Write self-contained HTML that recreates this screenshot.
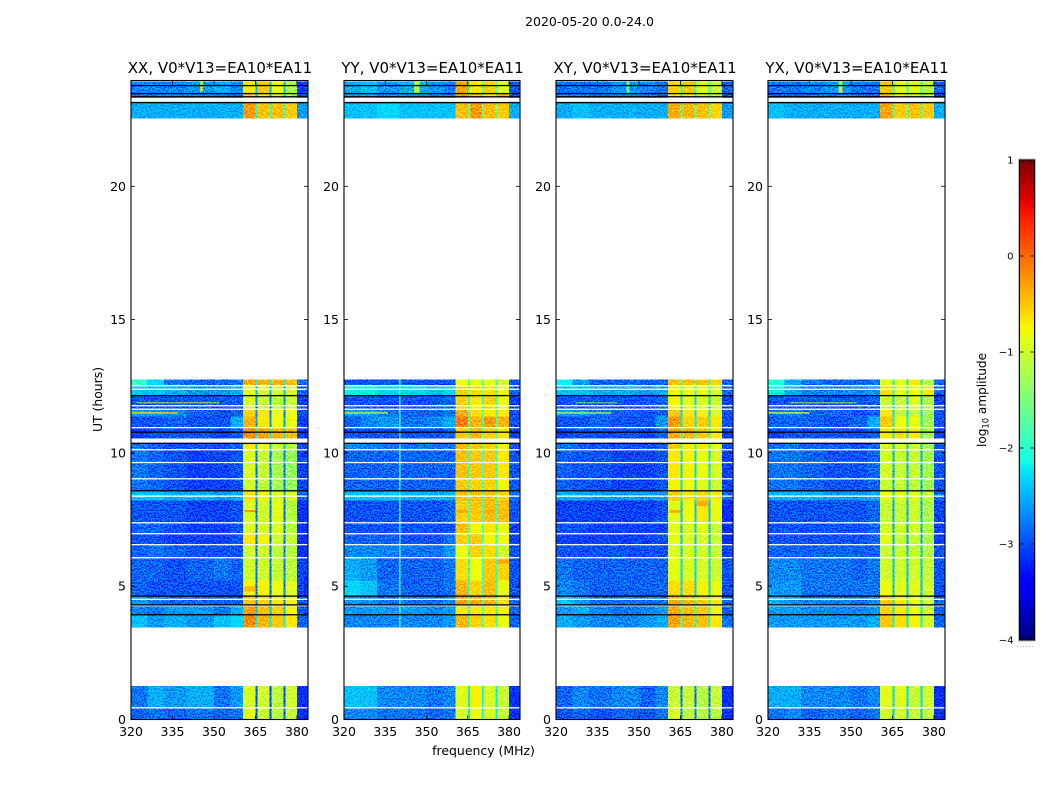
<!DOCTYPE html>
<html lang="en">
<head>
<meta charset="utf-8">
<title>2020-05-20 0.0-24.0</title>
<style>
html,body{margin:0;padding:0;background:#fff;}
svg{display:block;}
text{font-family:"DejaVu Sans","Liberation Sans",sans-serif;fill:#000;}
</style>
</head>
<body>
<svg id="chart" xmlns="http://www.w3.org/2000/svg" width="1050" height="800" viewBox="0 0 1050 800">
  <defs>
    <filter id="grain" x="0" y="0" width="100%" height="100%" color-interpolation-filters="sRGB">
      <feTurbulence type="fractalNoise" baseFrequency="0.7" numOctaves="1" seed="7" result="n"/>
      <feColorMatrix in="n" type="matrix" values="7 0 0 0 -3  7 0 0 0 -3  7 0 0 0 -3  0 0 0 0 1" result="g"/>
      <feBlend in="g" in2="SourceGraphic" mode="soft-light" result="b"/>
      <feComposite in="b" in2="SourceAlpha" operator="in"/>
    </filter>
    <linearGradient id="jet-gradient" x1="0" y1="1" x2="0" y2="0"></linearGradient>
  </defs>
</svg>
<script>
// ---------- chart data ----------
const figureTitle = "2020-05-20 0.0-24.0";
const panelTitles = ["XX, V0*V13=EA10*EA11","YY, V0*V13=EA10*EA11","XY, V0*V13=EA10*EA11","YX, V0*V13=EA10*EA11"];
const xTicks = [320,335,350,365,380];
const yTicks = [0,5,10,15,20];
const cbarTicks = [1,0,-1,-2,-3,-4];
// frequency bin edges (MHz)
const freqEdges = [320,326,332,340,350,356,360.5,365.1,365.8,370.1,370.8,375.1,375.8,380,384];
// time rows (UT hours)
const utTop =    [23.94,23.49,23.15,12.76,12.52,12.16,11.67,11.37,10.96,10.39,10.13,9.04,8.59,8.22,7.39,6.98,6.57,6.08,5.22,4.65,4.28,3.94,1.26,0.45];
const utBottom = [23.49,23.15,22.54,12.52,12.16,11.67,11.37,10.96,10.54,10.13,9.04,8.59,8.22,7.39,6.98,6.57,6.08,5.22,4.65,4.28,3.94,3.45,0.45,0];
// log10 amplitude per row and frequency bin
const ampXX = [
[-2.7,-2.7,-2.7,-2.6,-2.5,-2.7,-0.7,-2.4,-0.55,-2.4,-0.8,-2.4,-1.2,-3.1],
[-2.8,-2.8,-2.7,-2.7,-2.7,-2.8,-0.6,-2.4,-0.7,-2.4,-1.0,-2.4,-1.2,-3.0],
[-2.5,-2.5,-2.5,-2.5,-2.5,-2.5,-0.3,-2.0,-0.5,-2.0,-0.5,-2.0,-0.55,-2.6],
[-2.0,-2.3,-2.8,-2.9,-2.9,-2.8,-0.4,-2.2,-0.45,-2.2,-0.45,-2.2,-0.5,-2.8],
[-2.4,-2.4,-2.5,-2.6,-2.6,-2.5,-0.8,-2.4,-0.9,-2.4,-0.9,-2.4,-0.9,-2.9],
[-3.0,-3.0,-3.0,-3.0,-3.0,-2.9,-0.9,-2.7,-1.0,-2.7,-1.1,-2.7,-1.0,-3.1],
[-2.6,-2.6,-2.7,-2.9,-3.0,-2.9,-0.6,-2.7,-0.7,-2.7,-0.8,-2.7,-0.8,-3.0],
[-3.0,-3.0,-2.9,-3.0,-3.0,-2.5,-0.45,-2.6,-0.7,-2.6,-0.8,-2.6,-0.8,-3.1],
[-3.1,-3.0,-3.0,-3.0,-3.1,-2.9,-0.25,-2.2,-0.35,-2.2,-0.45,-2.2,-0.5,-3.1],
[-2.8,-2.9,-3.0,-3.0,-3.0,-2.9,-0.7,-2.4,-0.8,-2.4,-1.0,-2.4,-1.1,-3.0],
[-2.8,-2.9,-3.0,-3.1,-3.1,-3.0,-0.9,-2.8,-1.0,-2.8,-1.2,-2.8,-1.3,-3.1],
[-2.8,-2.9,-3.0,-3.1,-3.1,-3.0,-0.95,-2.8,-1.05,-2.8,-1.2,-2.8,-1.3,-3.1],
[-2.4,-2.4,-2.5,-2.5,-2.6,-2.5,-0.65,-2.5,-0.75,-2.5,-0.85,-2.5,-0.9,-2.9],
[-3.0,-3.0,-3.0,-3.1,-3.1,-3.0,-0.9,-2.8,-0.95,-2.8,-0.85,-2.8,-1.1,-3.2],
[-2.9,-2.9,-3.0,-3.1,-3.1,-3.0,-0.9,-2.8,-0.9,-2.8,-0.9,-2.8,-1.1,-3.2],
[-3.0,-3.0,-3.1,-3.1,-3.1,-3.0,-0.7,-2.8,-0.75,-2.8,-0.95,-2.8,-1.0,-3.2],
[-2.9,-2.8,-2.9,-3.0,-3.0,-3.0,-0.95,-2.8,-0.95,-2.8,-1.05,-2.8,-1.1,-3.2],
[-2.9,-2.9,-3.0,-2.9,-2.8,-2.9,-0.95,-2.8,-0.95,-2.8,-1.0,-2.8,-1.05,-3.1],
[-2.9,-3.0,-3.0,-3.0,-3.0,-3.0,-0.75,-2.8,-0.75,-2.8,-0.8,-2.8,-0.85,-3.1],
[-2.6,-2.8,-2.9,-2.9,-2.9,-2.9,-0.55,-2.6,-0.6,-2.6,-0.7,-2.6,-0.75,-3.0],
[-2.7,-2.8,-2.6,-2.6,-2.8,-2.5,-0.35,-2.4,-0.5,-2.4,-0.6,-2.4,-0.75,-3.0],
[-2.4,-2.6,-2.5,-2.6,-2.4,-2.3,-0.2,-2.2,-0.45,-2.2,-0.55,-2.2,-0.7,-2.9],
[-2.8,-2.5,-2.6,-2.5,-2.8,-2.6,-0.9,-3.0,-0.95,-3.0,-1.05,-3.0,-0.95,-3.2],
[-2.9,-2.8,-2.9,-2.8,-2.9,-2.8,-0.85,-3.0,-1.0,-3.0,-1.1,-3.0,-1.0,-3.2]
];
const ampYY = [
[-2.5,-2.4,-2.6,-2.5,-2.6,-2.7,-0.35,-1.8,-0.7,-1.8,-0.6,-1.8,-0.9,-3.0],
[-2.6,-2.5,-2.7,-2.6,-2.7,-2.8,-0.35,-1.8,-0.5,-1.8,-0.7,-1.8,-0.45,-3.0],
[-2.4,-2.4,-2.3,-2.4,-2.4,-2.4,-0.5,-1.6,-0.3,-1.6,-0.5,-1.6,-0.55,-2.5],
[-3.0,-3.0,-3.0,-3.0,-3.0,-3.0,-0.8,-1.9,-0.85,-1.9,-0.85,-1.9,-0.95,-3.0],
[-2.2,-2.2,-2.3,-2.3,-2.4,-2.3,-0.6,-1.7,-0.65,-1.7,-0.65,-1.7,-0.75,-2.9],
[-3.0,-3.0,-3.0,-3.0,-3.0,-2.9,-0.6,-1.9,-0.7,-1.9,-0.6,-1.9,-0.8,-3.1],
[-2.6,-2.6,-2.8,-2.9,-2.9,-2.8,-0.4,-1.9,-0.65,-1.9,-0.7,-1.9,-0.7,-3.0],
[-2.9,-2.7,-2.6,-2.8,-2.7,-2.5,-0.15,-1.8,-0.45,-1.8,-0.3,-1.8,-0.45,-3.0],
[-3.0,-3.0,-3.0,-3.0,-3.0,-2.9,-0.55,-1.8,-0.45,-1.8,-0.6,-1.8,-0.7,-3.1],
[-2.7,-2.7,-2.8,-2.8,-2.8,-2.8,-0.45,-1.8,-0.55,-1.8,-0.6,-1.8,-0.75,-3.0],
[-2.9,-2.9,-2.9,-2.9,-2.9,-2.9,-0.5,-2.0,-0.55,-2.0,-0.55,-2.0,-0.7,-3.0],
[-2.9,-2.9,-2.9,-2.9,-2.9,-2.9,-0.55,-2.0,-0.6,-2.0,-0.6,-2.0,-0.75,-3.0],
[-2.4,-2.4,-2.4,-2.5,-2.5,-2.5,-0.5,-1.8,-0.5,-1.8,-0.5,-1.8,-0.6,-2.8],
[-3.0,-3.0,-3.0,-3.0,-3.0,-2.9,-0.6,-2.0,-0.55,-2.0,-0.5,-2.0,-0.5,-3.0],
[-3.0,-3.0,-3.0,-3.0,-3.0,-3.0,-0.5,-2.0,-0.75,-2.0,-0.7,-2.0,-0.8,-3.1],
[-2.9,-2.9,-2.9,-3.0,-3.0,-2.8,-0.6,-2.0,-0.55,-2.0,-0.75,-2.0,-0.8,-3.1],
[-2.7,-2.7,-2.7,-2.8,-2.8,-2.6,-0.8,-1.9,-0.6,-1.9,-0.65,-1.9,-0.95,-3.0],
[-2.5,-2.6,-2.9,-2.9,-2.9,-2.8,-0.65,-2.0,-0.8,-2.0,-0.55,-2.0,-0.6,-3.0],
[-2.3,-2.4,-2.8,-2.9,-2.9,-2.8,-0.45,-2.0,-0.6,-2.0,-0.5,-2.0,-0.8,-3.0],
[-2.6,-2.7,-2.8,-2.8,-2.8,-2.7,-0.35,-1.9,-0.4,-1.9,-0.45,-1.9,-0.65,-2.9],
[-2.6,-2.6,-2.6,-2.6,-2.7,-2.6,-0.7,-1.9,-0.7,-1.9,-0.7,-1.9,-0.75,-2.9],
[-2.7,-2.7,-2.7,-2.7,-2.7,-2.6,-0.45,-1.9,-0.6,-1.9,-0.65,-1.9,-0.8,-2.9],
[-2.4,-2.4,-2.7,-2.7,-2.8,-2.7,-0.85,-2.2,-0.75,-2.2,-0.9,-2.2,-1.0,-3.2],
[-2.7,-2.7,-2.8,-2.8,-2.9,-2.8,-0.9,-2.2,-0.8,-2.2,-0.9,-2.2,-1.0,-3.2]
];
const ampXY = [
[-2.8,-2.8,-2.8,-2.6,-2.7,-2.8,-0.6,-2.1,-0.55,-2.1,-0.85,-2.1,-1.0,-2.9],
[-2.7,-2.7,-2.8,-2.7,-2.8,-2.8,-0.7,-2.1,-0.7,-2.1,-0.9,-2.1,-1.1,-3.0],
[-2.5,-2.4,-2.5,-2.5,-2.5,-2.5,-0.4,-1.8,-0.45,-1.8,-0.5,-1.8,-0.6,-2.6],
[-2.2,-2.6,-2.9,-2.9,-2.9,-2.9,-0.5,-2.0,-0.5,-2.0,-0.5,-2.0,-0.6,-2.9],
[-2.4,-2.4,-2.5,-2.5,-2.6,-2.5,-0.75,-2.1,-0.8,-2.1,-0.8,-2.1,-0.9,-2.9],
[-3.0,-3.0,-3.0,-3.0,-3.0,-2.9,-0.75,-2.3,-0.85,-2.3,-0.9,-2.3,-1.0,-3.1],
[-2.6,-2.6,-2.8,-2.9,-3.0,-2.9,-0.55,-2.3,-0.7,-2.3,-0.75,-2.3,-0.85,-3.0],
[-3.0,-3.0,-2.9,-3.0,-3.0,-2.6,-0.3,-2.2,-0.6,-2.2,-0.55,-2.2,-0.7,-3.0],
[-3.1,-3.0,-3.0,-3.0,-3.1,-2.9,-0.4,-2.1,-0.45,-2.1,-0.55,-2.1,-0.7,-3.1],
[-2.8,-2.9,-3.0,-3.0,-3.0,-2.9,-0.55,-2.1,-0.7,-2.1,-0.7,-2.1,-0.85,-3.0],
[-2.9,-3.0,-3.0,-3.1,-3.1,-3.0,-0.7,-2.3,-0.75,-2.3,-0.8,-2.3,-0.9,-3.1],
[-2.9,-3.0,-3.0,-3.1,-3.1,-3.0,-0.75,-2.3,-0.8,-2.3,-0.85,-2.3,-0.95,-3.1],
[-2.5,-2.5,-2.6,-2.6,-2.6,-2.6,-0.55,-2.1,-0.65,-2.1,-0.6,-2.1,-0.7,-2.9],
[-3.1,-3.1,-3.1,-3.1,-3.1,-3.0,-0.85,-2.4,-0.8,-2.4,-0.7,-2.4,-0.8,-3.2],
[-3.0,-3.0,-3.1,-3.1,-3.1,-3.1,-0.85,-2.4,-0.9,-2.4,-0.85,-2.4,-1.0,-3.2],
[-3.1,-3.1,-3.1,-3.1,-3.1,-3.0,-0.85,-2.4,-0.9,-2.4,-0.9,-2.4,-1.0,-3.2],
[-3.0,-3.0,-3.0,-3.0,-3.0,-3.0,-0.9,-2.3,-0.9,-2.3,-0.95,-2.3,-1.0,-3.1],
[-2.8,-2.9,-2.9,-2.9,-2.9,-2.9,-0.85,-2.3,-0.9,-2.3,-0.9,-2.3,-0.95,-3.0],
[-2.7,-2.8,-2.9,-2.9,-2.9,-2.9,-0.65,-2.3,-0.65,-2.3,-0.75,-2.3,-0.8,-3.0],
[-2.4,-2.6,-2.8,-2.8,-2.8,-2.8,-0.4,-2.1,-0.45,-2.1,-0.55,-2.1,-0.7,-2.9],
[-2.6,-2.5,-2.7,-2.8,-2.7,-2.6,-0.4,-2.0,-0.5,-2.0,-0.55,-2.0,-0.75,-2.9],
[-2.5,-2.6,-2.7,-2.7,-2.6,-2.5,-0.35,-2.0,-0.45,-2.0,-0.5,-2.0,-0.7,-2.8],
[-2.9,-2.7,-2.8,-2.7,-2.9,-2.7,-1.0,-2.8,-1.0,-2.8,-1.1,-2.8,-1.0,-3.2],
[-3.0,-2.9,-3.0,-2.9,-3.0,-2.8,-0.9,-2.7,-1.05,-2.7,-1.1,-2.7,-1.05,-3.2]
];
const ampYX = [
[-2.8,-2.8,-2.7,-2.6,-2.8,-2.8,-0.55,-2.0,-0.85,-2.0,-0.85,-2.0,-1.1,-2.9],
[-2.8,-2.8,-2.8,-2.7,-2.8,-2.8,-0.45,-2.0,-0.75,-2.0,-0.9,-2.0,-1.1,-3.0],
[-2.4,-2.5,-2.5,-2.5,-2.5,-2.5,-0.35,-1.8,-0.55,-1.8,-0.5,-1.8,-0.55,-2.5],
[-2.1,-2.5,-2.8,-2.9,-2.9,-2.8,-0.85,-2.2,-0.85,-2.2,-0.7,-2.2,-1.1,-2.9],
[-2.2,-2.5,-2.7,-2.7,-2.7,-2.6,-0.65,-2.1,-0.85,-2.1,-0.8,-2.1,-0.7,-2.9],
[-3.0,-3.0,-3.0,-3.0,-3.0,-2.9,-1.0,-2.3,-1.0,-2.3,-0.85,-2.3,-1.1,-3.1],
[-2.8,-2.7,-2.9,-2.9,-3.0,-2.9,-0.7,-2.3,-1.0,-2.3,-1.0,-2.3,-1.2,-3.0],
[-2.9,-2.9,-2.9,-3.0,-2.9,-2.5,-0.55,-2.2,-0.8,-2.2,-0.8,-2.2,-1.2,-3.0],
[-3.1,-3.0,-3.0,-3.0,-3.0,-2.9,-0.7,-2.2,-0.65,-2.2,-0.7,-2.2,-1.2,-3.1],
[-2.8,-2.8,-2.9,-2.9,-3.0,-2.9,-0.9,-2.4,-0.95,-2.4,-1.0,-2.4,-1.2,-3.0],
[-2.8,-2.8,-2.9,-3.0,-3.0,-2.9,-0.95,-2.5,-1.0,-2.5,-1.0,-2.5,-1.2,-3.0],
[-2.8,-2.8,-2.9,-3.0,-3.0,-2.9,-1.0,-2.5,-1.0,-2.5,-1.05,-2.5,-1.25,-3.0],
[-2.5,-2.5,-2.5,-2.6,-2.6,-2.5,-0.8,-2.3,-0.85,-2.3,-0.85,-2.3,-1.0,-2.9],
[-3.0,-3.0,-3.0,-3.0,-3.0,-2.9,-1.0,-2.5,-1.0,-2.5,-0.95,-2.5,-1.15,-3.1],
[-3.0,-3.0,-3.0,-3.0,-3.0,-2.9,-0.95,-2.5,-1.0,-2.5,-0.95,-2.5,-1.15,-3.1],
[-3.0,-3.0,-3.0,-3.0,-3.0,-2.9,-0.85,-2.5,-1.0,-2.5,-1.0,-2.5,-1.15,-3.1],
[-2.9,-2.9,-2.9,-2.9,-2.9,-2.9,-1.0,-2.4,-1.0,-2.4,-1.0,-2.4,-1.1,-3.0],
[-2.7,-2.7,-2.8,-2.8,-2.9,-2.8,-0.95,-2.4,-0.95,-2.4,-0.95,-2.4,-1.0,-3.0],
[-2.6,-2.6,-2.8,-2.8,-2.8,-2.8,-0.8,-2.4,-0.85,-2.4,-0.85,-2.4,-0.95,-3.0],
[-2.5,-2.6,-2.7,-2.7,-2.8,-2.7,-0.55,-2.2,-0.7,-2.2,-0.8,-2.2,-0.95,-2.9],
[-2.6,-2.6,-2.7,-2.7,-2.7,-2.6,-0.6,-2.2,-0.7,-2.2,-0.8,-2.2,-0.95,-2.9],
[-2.6,-2.6,-2.6,-2.6,-2.6,-2.5,-0.55,-2.2,-0.65,-2.2,-0.75,-2.2,-0.9,-2.9],
[-2.5,-2.5,-2.7,-2.7,-2.8,-2.7,-0.85,-2.3,-0.85,-2.3,-1.0,-2.3,-0.95,-3.2],
[-2.8,-2.7,-2.9,-2.8,-2.9,-2.8,-0.95,-2.4,-0.95,-2.4,-1.0,-2.4,-1.0,-3.2]
];
// flagged integrations (UT hours), same in all panels
const whiteLineUt = [12.52,12.39,11.77,11.64,10.95,10.12,9.64,9.03,8.38,7.38,6.97,6.56,6.07,4.51,4.27,0.44];
const whiteBandStart = [10.38,23.17];
const whiteBandEnd = [10.53,23.32];
const blackLineUt = [23.78,23.48,23.36,23.14,12.15,10.78,10.36,8.58,4.63,4.30,3.93];
// narrow interference features
const rfiPanel = [0,0,1,1,1,2,2,3,3,3,0,1,2,3,0,1,1,2,2,0,1];
const rfiFreqStart = [320,322,320,340,346.5,320,327,320,328,346,345,345.5,345.5,345.5,361,361,371,361,371,361,376];
const rfiFreqEnd = [337,352,336,340.6,347.5,340,342,335,352,347,346,346.5,346.5,346.5,365,365,375,365,375,365,380];
const rfiUtStart = [11.47,11.86,11.47,3.45,23.45,11.47,11.86,11.47,11.86,23.5,23.55,23.5,23.5,23.5,7.78,7.75,7.75,7.75,8.0,4.8,5.85];
const rfiUtEnd = [11.53,11.9,11.53,12.76,23.94,11.53,11.9,11.53,11.9,23.94,23.94,23.94,23.94,23.94,7.86,7.86,7.86,7.86,8.2,5.0,6.0];
const rfiValue = [-0.6,-1.1,-1.2,-1.8,-0.8,-1.3,-1.5,-1.0,-1.2,-1.2,-0.7,-0.8,-1.3,-1.2,-0.2,-0.3,-0.3,-0.3,-0.3,-0.4,-0.3];

// ---------- layout ----------
const panelAmps = [ampXX, ampYY, ampXY, ampYX];
const axLeft = [131,344,556,768];
const axRight = [308,520,733,945];
const axTop = 81, axBottom = 719.5;
const NS = "http://www.w3.org/2000/svg";
const svg = document.getElementById("chart");
const X_MIN = 320, X_MAX = 384, Y_MIN = 0, Y_MAX = 23.95;

function jet(t){
  function seg(p){
    for(let i=1;i<p.length;i++){
      if(t<=p[i][0]){
        const a=p[i-1],b=p[i];
        return a[1]+(b[1]-a[1])*(t-a[0])/(b[0]-a[0]);
      }
    }
    return p[p.length-1][1];
  }
  const r=seg([[0,0],[.35,0],[.66,1],[.89,1],[1,.5]]);
  const g=seg([[0,0],[.125,0],[.375,1],[.64,1],[.91,0],[1,0]]);
  const b=seg([[0,.5],[.11,1],[.34,1],[.65,0],[1,0]]);
  return "rgb("+Math.round(r*255)+","+Math.round(g*255)+","+Math.round(b*255)+")";
}
function ampColor(v){ return jet(Math.min(1,Math.max(0,(v+4)/5))); }
function make(parent,tag,attrs,txt){
  const el=document.createElementNS(NS,tag);
  for(const k in attrs){ el.setAttribute(k,attrs[k]); }
  if(txt!==undefined){ el.textContent=txt; }
  parent.appendChild(el);
  return el;
}
function minusFmt(v){ return v<0 ? "\u2212"+Math.abs(v) : String(v); }

// figure title
const figTitle = make(svg,"text",{x:589.5,y:26,"font-size":"12.5","text-anchor":"middle"},figureTitle);



panelAmps.forEach(function(matrix,p){
  const L=axLeft[p], R=axRight[p];
  const xs=function(f){ return L+(f-X_MIN)*(R-L)/(X_MAX-X_MIN); };
  const ys=function(u){ return axBottom-(u-Y_MIN)*(axBottom-axTop)/(Y_MAX-Y_MIN); };

  const group=make(svg,"g",{});
  
  

  const heat=make(group,"g",{filter:"url(#grain)","shape-rendering":"crispEdges"});
  
  
  matrix.forEach(function(row,i){
    row.forEach(function(v,j){
      const x0=xs(freqEdges[j]), x1=xs(freqEdges[j+1]);
      const y0=ys(utTop[i]), y1=ys(utBottom[i]);
      const cell=make(heat,"rect",{x:x0,y:y0,width:x1-x0,height:y1-y0,fill:ampColor(v)});
      
      
    });
  });

  rfiPanel.forEach(function(pn,k){
    if(pn!==p){ return; }
    const x0=xs(rfiFreqStart[k]), x1=xs(rfiFreqEnd[k]);
    const y0=ys(rfiUtEnd[k]), y1=ys(rfiUtStart[k]);
    const rf=make(group,"rect",{x:x0,y:y0,width:x1-x0,height:y1-y0,fill:ampColor(rfiValue[k]),opacity:"0.85"});
    
    
  });

  whiteLineUt.forEach(function(u){
    const ln=make(group,"rect",{x:L,y:ys(u)-0.6,width:R-L,height:1.3,fill:"#fff"});
    
    
  });
  whiteBandStart.forEach(function(u,k){
    const y0=ys(whiteBandEnd[k]), y1=ys(u);
    const bd=make(group,"rect",{x:L,y:y0,width:R-L,height:y1-y0,fill:"#fff"});
    
    
  });
  blackLineUt.forEach(function(u){
    const ln=make(group,"rect",{x:L,y:ys(u)-0.6,width:R-L,height:1.3,fill:"#000"});
    
    
  });

  const frame=make(group,"rect",{x:L,y:axTop-0.5,width:R-L,height:axBottom-axTop+0.5,fill:"none",stroke:"#000","stroke-width":"1.1"});
  
  

  xTicks.forEach(function(t){
    const x=xs(t);
    const t1=make(group,"line",{x1:x,x2:x,y1:axBottom,y2:axBottom-4,stroke:"#000","stroke-width":"0.8"});
    
    
    const t2=make(group,"line",{x1:x,x2:x,y1:axTop,y2:axTop+4,stroke:"#000","stroke-width":"0.8"});
    
    
    const lb=make(group,"text",{x:x,y:736,"font-size":"12.5","text-anchor":"middle"},String(t));
    
    
  });
  yTicks.forEach(function(t){
    const y=ys(t);
    const t1=make(group,"line",{x1:L,x2:L+4,y1:y,y2:y,stroke:"#000","stroke-width":"0.8"});
    
    
    const t2=make(group,"line",{x1:R-4,x2:R,y1:y,y2:y,stroke:"#000","stroke-width":"0.8"});
    
    
    const lb=make(group,"text",{x:L-5,y:y+4.5,"font-size":"12.5","text-anchor":"end"},String(t));
    
    
  });
  const title=make(group,"text",{x:(L+R)/2+0.5,y:73,"font-size":"15","text-anchor":"middle"},panelTitles[p]);
  
  
});

const yTitle=make(svg,"text",{x:0,y:0,"font-size":"12.4","text-anchor":"middle",transform:"translate(102,399.5) rotate(-90)"},"UT (hours)");


const xTitle=make(svg,"text",{x:483.5,y:755,"font-size":"12.45","text-anchor":"middle"},"frequency (MHz)");



// ---------- colorbar ----------
const grad=document.getElementById("jet-gradient");
for(let i=0;i<=40;i++){
  const s=document.createElementNS(NS,"stop");
  s.setAttribute("offset",(i/40));
  s.setAttribute("stop-color",jet(i/40));
  grad.appendChild(s);
}
const cbL=1019.5, cbR=1034.5, cbT=160, cbB=640;
const cbY=function(v){ return cbB-(v-cbarTicks[cbarTicks.length-1])*(cbB-cbT)/(cbarTicks[0]-cbarTicks[cbarTicks.length-1]); };
const cb=make(svg,"g",{});


const halo=make(cb,"rect",{x:cbL-1,y:cbT-1,width:cbR-cbL+2,height:cbB-cbT+2,fill:"none",stroke:"#bbb","stroke-width":"1"});


const ramp=make(cb,"rect",{x:cbL,y:cbT,width:cbR-cbL,height:cbB-cbT,fill:"url(#jet-gradient)",stroke:"#000","stroke-width":"1"});


cbarTicks.forEach(function(v){
  const y=cbY(v);
  const a=make(cb,"line",{x1:cbL,x2:cbL+4,y1:y,y2:y,stroke:"#000","stroke-width":"0.8"});
  
  
  const b=make(cb,"line",{x1:cbR-4,x2:cbR,y1:y,y2:y,stroke:"#000","stroke-width":"0.8"});
  
  
  const lb=make(cb,"text",{x:1013.5,y:y+3.5,"font-size":"10","text-anchor":"end"},minusFmt(v));
  
  
});
[cbT,cbB-4].forEach(function(y0){
  [1022,1025,1028,1031].forEach(function(x){
    const m=make(cb,"line",{x1:x+0.5,x2:x+0.5,y1:y0,y2:y0+4,stroke:"#000","stroke-width":"0.6"});
    
    
  });
});
const dots=make(cb,"line",{x1:1017,x2:1035,y1:646.5,y2:646.5,stroke:"#aaa","stroke-width":"1","stroke-dasharray":"1 2"});


const cbTitle=make(cb,"text",{x:0,y:0,"font-size":"12.1","text-anchor":"middle",transform:"translate(986,400) rotate(-90)"});


make(cbTitle,"tspan",{},"log");
make(cbTitle,"tspan",{"font-size":"8.4",dy:"2.5"},"10");
make(cbTitle,"tspan",{dy:"-2.5"}," amplitude");
</script>
</body>
</html>
